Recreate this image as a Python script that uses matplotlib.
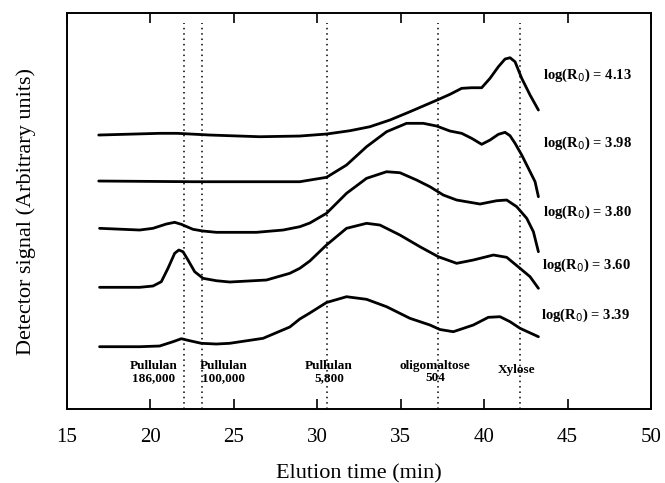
import matplotlib.pyplot as plt

plt.rcParams['font.family'] = ['Liberation Serif', 'DejaVu Serif']

# elution time (min) and detector signal (arbitrary, offset per trace)
t_413 = [16.9, 20.55, 21.6, 23.55, 26.55, 28.95, 30.55, 31.95, 33.15, 34.35, 35.55,
         37.25, 37.95, 38.65, 39.25, 39.85, 40.35, 40.85, 41.25, 41.55, 41.85, 42.25,
         42.75, 43.25]
s_413 = [274, 275.7, 275.7, 274, 272.3, 273, 275, 278.3, 282.3, 289, 297.3,
         309.5, 314.7, 320.7, 321.3, 321.3, 330.7, 342.3, 350, 351.3, 347.3, 330.7,
         314, 299]

t_398 = [16.9, 22.55, 28.95, 30.55, 31.75, 32.95, 34.15, 35.35, 36.35, 37.15, 37.95,
         38.65, 39.25, 39.85, 40.35, 40.85, 41.25, 41.55, 41.85, 42.25, 42.65, 43.05,
         43.25]
s_398 = [228, 227.3, 227.3, 231.7, 244, 262.3, 277.3, 285.7, 285.7, 283, 278,
         275.7, 270.7, 264.7, 269, 274.7, 276.7, 273.3, 265.7, 254, 240.7, 227.3,
         212.3]

t_380 = [16.95, 19.35, 20.15, 20.95, 21.45, 21.85, 22.55, 23.15, 23.95, 24.75, 26.35,
         27.95, 28.95, 29.55, 30.55, 31.75, 32.95, 34.15, 34.95, 35.95, 36.75, 37.55,
         38.35, 39.75, 40.75, 41.35, 41.95, 42.55, 42.95, 43.25]
s_380 = [180.7, 179, 180.7, 185, 186.7, 184.7, 179.7, 178, 176.7, 176.7, 176.7,
         179, 182.3, 186, 195.7, 215.7, 230.7, 237.3, 236.3, 229, 222.3, 214,
         209, 205, 208.3, 209, 202.3, 190.7, 177.3, 157.3]

t_360 = [16.95, 19.35, 20.15, 20.65, 21.05, 21.45, 21.7, 21.95, 22.25, 22.65, 23.15,
         23.95, 24.75, 26.95, 28.35, 28.95, 29.55, 30.55, 31.75, 32.95, 33.75, 34.95,
         36.15, 37.25, 38.35, 39.35, 40.55, 41.35, 42.15, 42.75, 43.25]
s_360 = [121.7, 121.7, 123, 127.3, 140.7, 155.7, 159, 157.3, 149, 137.3, 130.7,
         128.3, 127, 129, 135.7, 140.7, 148, 164, 180.7, 185.7, 184, 174,
         162.3, 152.3, 145.7, 149, 154, 151.7, 140.7, 132.3, 120.7]

t_339 = [16.95, 19.35, 20.55, 21.35, 21.85, 22.35, 23.05, 23.95, 24.75, 26.75, 28.35,
         28.95, 29.55, 30.55, 31.75, 32.95, 34.15, 35.55, 36.75, 37.35, 38.15, 39.35,
         40.25, 40.95, 41.55, 42.15, 43.25]
s_339 = [62.3, 62.3, 63, 67.3, 70.3, 68.3, 65.7, 65, 65.7, 70.7, 82,
         90, 96, 106.5, 112.3, 109.7, 102.3, 90.7, 84, 79.5, 77.3, 84,
         91.7, 92.3, 87.3, 80.7, 72.3]

traces = [(t_413, s_413), (t_398, s_398), (t_380, s_380), (t_360, s_360), (t_339, s_339)]
trace_labels = ['4.13', '3.98', '3.80', '3.60', '3.39']
label_x = [43.53, 43.53, 43.5, 43.47, 43.4]
label_y = [334, 266, 197, 144, 94]

# calibration standards
std_times = [22.0, 23.1, 30.6, 37.25, 42.15]
std_names = ['Pullulan\n186,000', 'Pullulan\n100,000', 'Pullulan\n5,800',
             'oligomaltose\n504', 'Xylose']
std_text_x = [20.2, 24.4, 30.7, 37.05, 41.97]
std_text_y = [37, 37, 37, 37, 39]

fig = plt.figure(figsize=(6.65, 4.83), dpi=100)
ax = fig.add_axes([0.1008, 0.1532, 0.8782, 0.8198])

for (t, s) in traces:
    ax.plot(t, s, color='black', lw=2.0, solid_joinstyle='round', solid_capstyle='round')

ax.vlines(std_times, 0, 386, colors='black', linestyles=(0, (1, 2.5)), lw=1.1)

for lab, x, y in zip(trace_labels, label_x, label_y):
    ax.text(x, y, 'log(R$_{0}$) = ' + lab, ha='left', va='center', fontsize=10.5,
            fontweight='bold')

for name, x, y in zip(std_names, std_text_x, std_text_y):
    ax.text(x, y, name, ha='center', va='center', fontsize=9.5, fontweight='bold',
            linespacing=0.95)

ax.set_xlim(15, 50)
ax.set_ylim(0, 396)
ax.set_xticks([15, 20, 25, 30, 35, 40, 45, 50])
ax.set_yticks([])
ax.tick_params(axis='x', direction='in', top=True, length=7, width=1.2,
               labelsize=15, pad=14)
for sp in ax.spines.values():
    sp.set_linewidth(1.4)

ax.set_xlabel('Elution time (min)', fontsize=16, labelpad=12)
ax.set_ylabel('Detector signal (Arbitrary units)', fontsize=16, labelpad=22)

fig.savefig('out.png', dpi=100)
